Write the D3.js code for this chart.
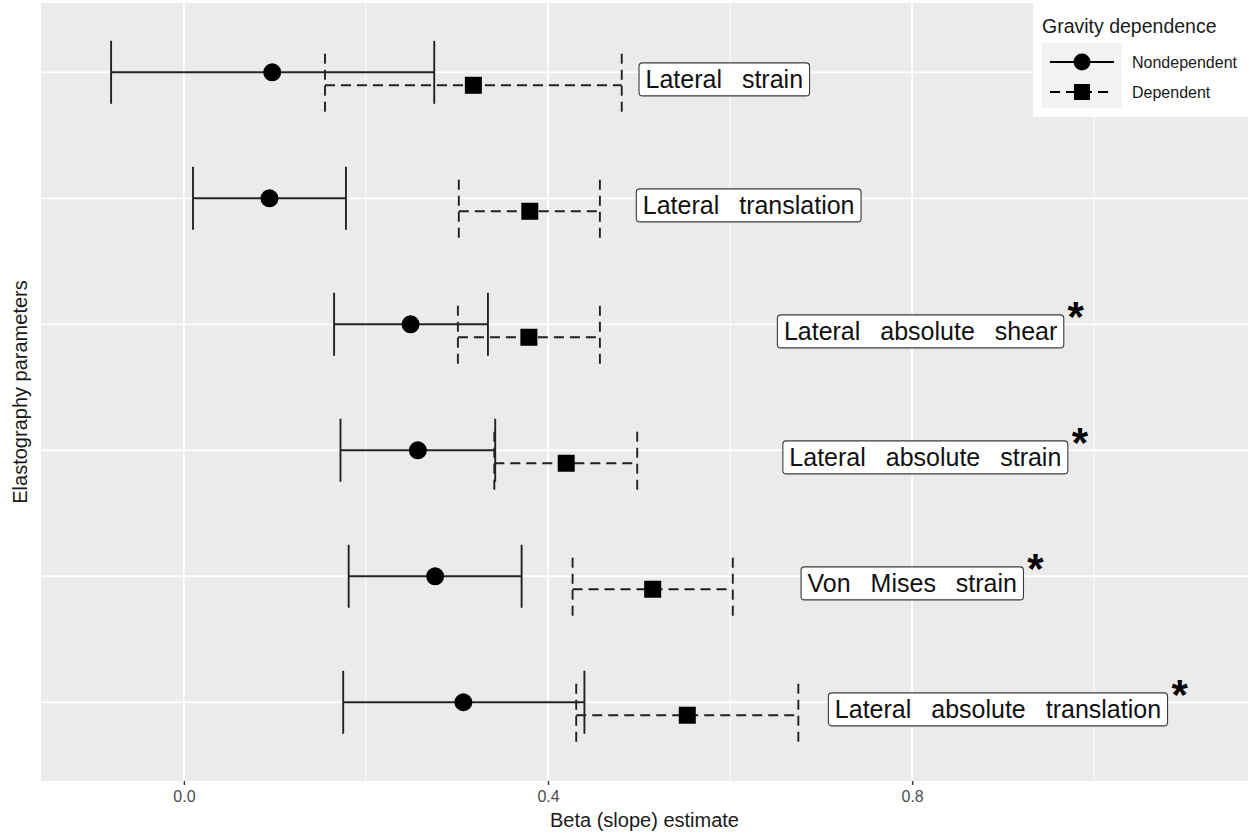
<!DOCTYPE html>
<html>
<head>
<meta charset="utf-8">
<script src="https://cdnjs.cloudflare.com/ajax/libs/d3/7.8.5/d3.min.js"></script>
<style>
    body { margin: 0; background: #fff; }
    svg { display: block; font-family: "Liberation Sans", Arial, sans-serif; }
    .xaxis .tick text { font-size: 16px; fill: #4d4d4d; }
</style>
</head>
<body>
<div id="chart"></div>
<script>
// parameters, top to bottom
var params = ['Lateral strain', 'Lateral translation', 'Lateral absolute shear',
    'Lateral absolute strain', 'Von Mises strain', 'Lateral absolute translation'];

// non-dependent estimates and 95% CI
var ndEst = [0.097, 0.094, 0.249, 0.257, 0.276, 0.307];
var ndLo = [-0.080, 0.010, 0.165, 0.172, 0.181, 0.175];
var ndHi = [0.275, 0.178, 0.334, 0.342, 0.371, 0.440];

// dependent estimates and 95% CI
var dEst = [0.318, 0.380, 0.379, 0.420, 0.515, 0.553];
var dLo = [0.155, 0.302, 0.301, 0.341, 0.427, 0.431];
var dHi = [0.481, 0.457, 0.457, 0.498, 0.603, 0.675];

// where each label box starts (beta units) and which ones get a star
var labelX = [0.500, 0.497, 0.652, 0.658, 0.678, 0.708];
var signif = [false, false, true, true, true, true];

var xTicks = [0.0, 0.4, 0.8];
var xMinor = [0.2, 0.6, 1.0];
var legendNames = ['Nondependent', 'Dependent'];

var width = 1249,
    height = 834;
var panel = { left: 41, right: 1248, top: 3, bottom: 781 };

var svg = d3.select('#chart').append('svg')
    .attr('width', width)
    .attr('height', height);

var x = d3.scaleLinear()
    .domain([-0.157, 1.169])
    .range([panel.left, panel.right]);

// rows as index, so the dodge can be in row units
var y = d3.scaleLinear()
    .domain([-0.55, params.length - 0.375])
    .range([panel.top, panel.bottom]);

var dodge = 0.103; // dependent sits a bit below its row
var capHalf = 0.25;

// panel background
svg.append('rect')
    .attr('x', panel.left)
    .attr('y', panel.top)
    .attr('width', panel.right - panel.left)
    .attr('height', panel.bottom - panel.top)
    .attr('fill', '#ebebeb');

var grid = svg.append('g');
grid.selectAll('.minor')
    .data(xMinor)
    .enter()
    .append('line')
    .attr('x1', function(d) { return x(d); })
    .attr('x2', function(d) { return x(d); })
    .attr('y1', panel.top)
    .attr('y2', panel.bottom)
    .attr('stroke', '#fff')
    .attr('stroke-width', 0.9);
grid.selectAll('.major')
    .data(xTicks)
    .enter()
    .append('line')
    .attr('x1', function(d) { return x(d); })
    .attr('x2', function(d) { return x(d); })
    .attr('y1', panel.top)
    .attr('y2', panel.bottom)
    .attr('stroke', '#fff')
    .attr('stroke-width', 1.8);
grid.selectAll('.row')
    .data(params)
    .enter()
    .append('line')
    .attr('x1', panel.left)
    .attr('x2', panel.right)
    .attr('y1', function(d, i) { return y(i); })
    .attr('y2', function(d, i) { return y(i); })
    .attr('stroke', '#fff')
    .attr('stroke-width', 1.8);

// x axis
var xAxis = d3.axisBottom(x)
    .tickValues(xTicks)
    .tickSize(4)
    .tickPadding(6)
    .tickFormat(d3.format('.1f'));
var gx = svg.append('g')
    .attr('class', 'xaxis')
    .attr('transform', 'translate(0,' + panel.bottom + ')')
    .call(xAxis);
gx.attr('font-family', null).attr('font-size', null);
gx.select('.domain').remove();
gx.selectAll('.tick line').attr('stroke', '#333').attr('stroke-width', 1.4);

svg.append('text')
    .attr('x', (panel.left + panel.right) / 2)
    .attr('y', 827)
    .attr('text-anchor', 'middle')
    .style('font-size', '20px')
    .attr('fill', '#1a1a1a')
    .text('Beta (slope) estimate');

svg.append('text')
    .attr('transform', 'translate(27,' + (panel.top + panel.bottom) / 2 + ') rotate(-90)')
    .attr('text-anchor', 'middle')
    .style('font-size', '20px')
    .attr('fill', '#1a1a1a')
    .text('Elastography parameters');

// build one record per row and group
var groups = [
    { name: 'Nondependent', est: ndEst, lo: ndLo, hi: ndHi, off: 0, dash: null, shape: 'circle' },
    { name: 'Dependent', est: dEst, lo: dLo, hi: dHi, off: dodge, dash: '10,6', shape: 'square' }
];

var marks = svg.append('g');

groups.forEach(function(g) {
    var rows = params.map(function(p, i) {
        return { i: i, est: g.est[i], lo: g.lo[i], hi: g.hi[i] };
    });
    var bars = marks.append('g')
        .attr('stroke', '#222')
        .attr('stroke-width', 1.9)
        .attr('stroke-dasharray', g.dash);
    // horizontal part
    bars.selectAll('.h')
        .data(rows)
        .enter()
        .append('line')
        .attr('x1', function(d) { return x(d.lo); })
        .attr('x2', function(d) { return x(d.hi); })
        .attr('y1', function(d) { return y(d.i + g.off); })
        .attr('y2', function(d) { return y(d.i + g.off); });
    // caps at both ends
    ['lo', 'hi'].forEach(function(k) {
        bars.selectAll('.c' + k)
            .data(rows)
            .enter()
            .append('line')
            .attr('x1', function(d) { return x(d[k]); })
            .attr('x2', function(d) { return x(d[k]); })
            .attr('y1', function(d) { return y(d.i + g.off - capHalf); })
            .attr('y2', function(d) { return y(d.i + g.off + capHalf); });
    });
    g.rows = rows;
});

// points on top
groups.forEach(function(g) {
    var pts = marks.append('g').attr('fill', '#000');
    if (g.shape == 'circle') {
        pts.selectAll('circle')
            .data(g.rows)
            .enter()
            .append('circle')
            .attr('cx', function(d) { return x(d.est); })
            .attr('cy', function(d) { return y(d.i + g.off); })
            .attr('r', 9);
    } else {
        pts.selectAll('rect')
            .data(g.rows)
            .enter()
            .append('rect')
            .attr('x', function(d) { return x(d.est) - 8.5; })
            .attr('y', function(d) { return y(d.i + g.off) - 8.5; })
            .attr('width', 17)
            .attr('height', 17);
    }
});

// text labels in boxes
var labels = svg.append('g');
params.forEach(function(p, i) {
    var lg = labels.append('g');
    var cy = y(i + dodge / 2 + 0.005);
    var t = lg.append('text')
        .attr('x', x(labelX[i]) + 6.5)
        .attr('y', cy + 9)
        .style('font-size', '25px')
        .style('word-spacing', '13px')
        .attr('fill', '#111')
        .text(p);
    var bb = t.node().getBBox();
    var bx = x(labelX[i]),
        bw = bb.width + 13,
        by = cy - 16.5;
    lg.insert('rect', 'text')
        .attr('x', bx)
        .attr('y', by)
        .attr('width', bw)
        .attr('height', 33)
        .attr('rx', 3.5)
        .attr('fill', '#fff')
        .attr('stroke', '#3a3a3a')
        .attr('stroke-width', 1.1);
    if (signif[i]) {
        lg.append('text')
            .attr('x', bx + bw + 12)
            .attr('y', by - 7.5 + 24)
            .attr('text-anchor', 'middle')
            .style('font-size', '42px')
            .style('font-weight', 'bold')
            .attr('fill', '#000')
            .text('*');
    }
});

// legend
var legend = svg.append('g');
legend.append('rect')
    .attr('x', 1033)
    .attr('y', 0)
    .attr('width', width - 1033)
    .attr('height', 117)
    .attr('fill', '#fff');
legend.append('text')
    .attr('x', 1042)
    .attr('y', 33)
    .style('font-size', '19.5px')
    .attr('fill', '#1a1a1a')
    .text('Gravity dependence');
legend.append('rect')
    .attr('x', 1042)
    .attr('y', 43)
    .attr('width', 80)
    .attr('height', 65)
    .attr('fill', '#f2f2f2');

groups.forEach(function(g, i) {
    var ky = 62 + i * 30;
    legend.append('line')
        .attr('x1', 1050)
        .attr('x2', 1114)
        .attr('y1', ky)
        .attr('y2', ky)
        .attr('stroke', '#000')
        .attr('stroke-width', 1.9)
        .attr('stroke-dasharray', g.dash);
    if (g.shape == 'circle') {
        legend.append('circle').attr('cx', 1082).attr('cy', ky).attr('r', 8.5);
    } else {
        legend.append('rect').attr('x', 1074).attr('y', ky - 8).attr('width', 16).attr('height', 16);
    }
    legend.append('text')
        .attr('x', 1132)
        .attr('y', ky + 5.5)
        .style('font-size', '16px')
        .attr('fill', '#1a1a1a')
        .text(legendNames[i]);
});
</script>
</body>
</html>
